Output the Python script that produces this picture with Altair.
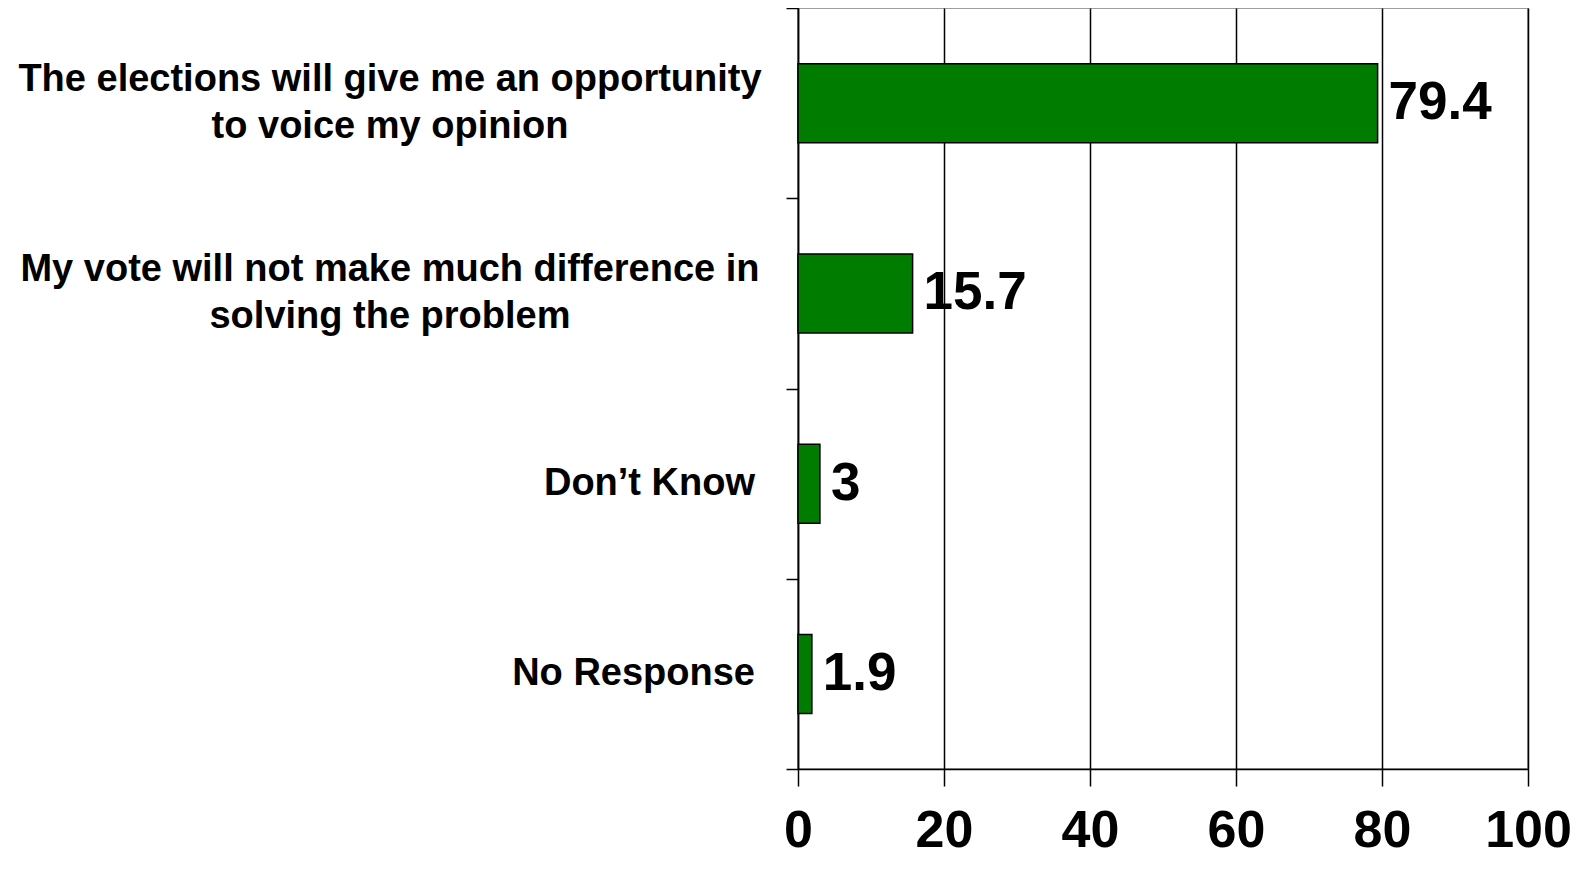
import altair as alt
import pandas as pd

categories = [
    "The elections will give me an opportunity|to voice my opinion",
    "My vote will not make much difference in|solving the problem",
    "Don’t Know",
    "No Response",
]
values = [79.4, 15.7, 3, 1.9]
x_ticks = [0, 20, 40, 60, 80, 100]

df = pd.DataFrame({"category": categories, "value": values})

FONT = "Liberation Sans, Arial, Helvetica, sans-serif"

y_enc = alt.Y(
    "category:N",
    sort=categories,
    scale=alt.Scale(paddingInner=0, paddingOuter=0),
    axis=alt.Axis(
        title=None,
        labels=False,
        tickBand="extent",
        tickSize=12,
        tickWidth=1.5,
        tickColor="black",
        domainColor="black",
        domainWidth=1.5,
    ),
)

x_enc = alt.X(
    "value:Q",
    scale=alt.Scale(domain=[0, 100], nice=False),
    axis=alt.Axis(
        title=None,
        orient="bottom",
        values=x_ticks,
        grid=True,
        gridColor="black",
        gridWidth=1.5,
        gridOpacity=1,
        tickSize=17,
        tickWidth=1.5,
        tickColor="black",
        domainColor="black",
        domainWidth=1.5,
        labelFont=FONT,
        labelFontSize=52,
        labelFontWeight="bold",
        labelColor="black",
        labelBaseline="alphabetic",
        labelPadding=60,
        labelFlush=False,
    ),
)

bars = alt.Chart(df).mark_bar(
    color="#007C00", stroke="black", strokeWidth=1.5, size=79
).encode(x=x_enc, y=y_enc)

values_text = alt.Chart(df).mark_text(
    align="left", baseline="middle", dx=11, fontSize=53, fontWeight="bold",
    font=FONT, color="black"
).encode(
    x=alt.X("value:Q"),
    y=alt.Y("category:N", sort=categories),
    text=alt.Text("value:Q"),
)

cat_multi = alt.Chart(df).transform_filter(
    "indexof(datum.category, '|') >= 0"
).mark_text(
    align="center", baseline="middle", lineBreak="|", lineHeight=47,
    dx=-408, dy=-23, fontSize=38, fontWeight="bold", font=FONT, color="black"
).encode(
    x=alt.datum(0),
    y=alt.Y("category:N", sort=categories),
    text="category:N",
)

cat_single = alt.Chart(df).transform_filter(
    "indexof(datum.category, '|') < 0"
).mark_text(
    align="right", baseline="middle",
    dx=-43, fontSize=38, fontWeight="bold", font=FONT, color="black"
).encode(
    x=alt.datum(0),
    y=alt.Y("category:N", sort=categories),
    text="category:N",
)

chart = (
    alt.layer(bars, values_text, cat_multi, cat_single)
    .properties(
        width=730,
        height=761,
        autosize="none",
        padding={"left": 790, "top": 0, "right": 49, "bottom": 88},
        background="white",
    )
    .configure_view(stroke="#7f7f7f", strokeWidth=1.5)
)

chart.save("out.html", embed_options={"renderer": "svg", "actions": False})
